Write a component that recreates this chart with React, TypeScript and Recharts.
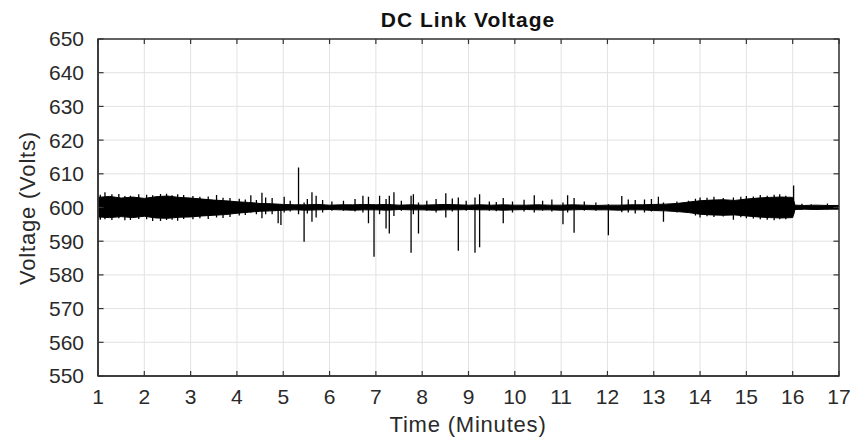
import {
  ComposedChart,
  Area,
  Line,
  XAxis,
  YAxis,
  CartesianGrid,
  ReferenceArea,
  ReferenceLine,
} from "recharts";

// time samples (minutes) for the noise band envelope
const bandTimes = [
  1, 1.25, 1.5, 1.75, 2, 2.25, 2.5, 2.75, 3, 3.25, 3.5, 3.75, 4, 4.25, 4.5, 4.75,
  5, 5.25, 5.5, 5.75, 6, 6.25, 6.5, 6.75, 7, 7.25, 7.5, 7.75, 8, 8.25, 8.5, 8.75,
  9, 9.25, 9.5, 9.75, 10, 10.25, 10.5, 10.75, 11, 11.25, 11.5, 11.75, 12, 12.25, 12.5, 12.75,
  13, 13.25, 13.5, 13.75, 14, 14.25, 14.5, 14.75, 15, 15.25, 15.5, 15.75, 16, 16.05,
  16.25, 16.5, 16.75, 17,
];
const bandHigh = [
  603.0, 603.3, 602.8, 603.1, 602.7, 603.2, 603.4, 603.0, 602.8, 602.5, 602.2, 602.0, 601.7, 601.5, 601.2, 601.1,
  600.9, 600.8, 600.8, 600.9, 600.7, 600.8, 600.8, 600.9, 600.8, 600.9, 600.7, 600.8, 600.7, 600.8, 600.9, 600.8,
  600.7, 600.8, 600.7, 600.8, 600.7, 600.7, 600.8, 600.7, 600.7, 600.8, 600.7, 600.6, 600.7, 600.7, 600.8, 600.8,
  600.9, 601.0, 601.2, 601.6, 602.0, 602.2, 602.3, 602.1, 602.5, 602.8, 603.0, 603.1, 603.0, 600.7,
  600.6, 600.7, 600.6, 600.6,
];
const bandLow = [
  597.2, 597.0, 597.3, 597.0, 597.4, 596.9, 596.8, 597.1, 597.2, 597.5, 597.7, 597.9, 598.3, 598.6, 598.9, 599.0,
  599.2, 599.3, 599.2, 599.3, 599.4, 599.3, 599.2, 599.3, 599.3, 599.2, 599.4, 599.3, 599.3, 599.2, 599.3, 599.3,
  599.4, 599.3, 599.3, 599.2, 599.3, 599.4, 599.3, 599.3, 599.2, 599.3, 599.4, 599.3, 599.3, 599.2, 599.3, 599.3,
  599.1, 599.0, 598.8, 598.5, 598.0, 597.8, 597.7, 597.8, 597.5, 597.2, 597.0, 596.9, 597.0, 599.4,
  599.5, 599.4, 599.5, 599.5,
];

// individual transients: [time, min, max]
const spikes: [number, number, number][] = [
  [1.05, 596.4, 603.8], [1.15, 596.5, 604.5], [1.3, 596.3, 603.9], [1.45, 596.8, 604.0],
  [1.58, 596.2, 603.4], [1.7, 596.3, 603.5], [1.88, 596.6, 603.9], [2.05, 596.5, 603.8],
  [2.18, 596.0, 603.6], [2.35, 596.0, 604.0], [2.48, 596.3, 604.1], [2.6, 596.4, 603.6],
  [2.72, 596.1, 603.9], [2.85, 596.6, 603.7], [3.05, 596.5, 603.4], [3.2, 596.8, 603.2],
  [3.38, 596.6, 603.3], [3.56, 597.0, 603.7], [3.7, 596.9, 602.9], [3.85, 597.2, 602.8],
  [4.05, 597.6, 602.6], [4.18, 597.8, 602.4], [4.3, 598.5, 603.6], [4.42, 598.0, 602.2],
  [4.54, 596.8, 604.4], [4.62, 598.0, 603.0], [4.76, 598.0, 602.8], [4.89, 595.3, 601.0],
  [4.95, 594.8, 601.0], [5.02, 598.5, 603.2], [5.15, 598.8, 602.0], [5.33, 598.0, 611.9],
  [5.45, 589.8, 601.5], [5.52, 598.2, 602.5], [5.62, 595.8, 604.5], [5.71, 597.0, 603.5],
  [5.85, 598.5, 602.2], [6.05, 599.0, 601.8], [6.3, 599.0, 602.0], [6.55, 598.8, 602.5],
  [6.72, 598.5, 603.5], [6.84, 595.3, 603.2], [6.96, 585.4, 601.0], [7.08, 598.0, 603.5],
  [7.22, 593.8, 602.5], [7.29, 592.3, 603.5], [7.39, 597.5, 604.5], [7.55, 599.0, 602.0],
  [7.76, 586.6, 603.5], [7.81, 598.0, 603.9], [7.92, 592.3, 601.5], [8.1, 599.0, 602.0],
  [8.3, 598.5, 602.5], [8.51, 597.0, 604.2], [8.65, 598.8, 602.7], [8.78, 587.2, 603.0],
  [8.95, 599.0, 602.0], [9.14, 586.6, 603.0], [9.24, 588.2, 603.9], [9.45, 599.0, 601.8],
  [9.6, 598.9, 601.6], [9.75, 595.3, 602.8], [9.95, 598.5, 601.8], [10.2, 598.8, 602.3],
  [10.42, 598.5, 603.6], [10.6, 599.0, 602.0], [10.8, 598.8, 602.4], [11.04, 595.0, 601.5],
  [11.14, 598.5, 603.6], [11.28, 592.5, 602.8], [11.5, 599.0, 601.8], [11.75, 599.0, 601.5],
  [12.02, 591.8, 601.0], [12.31, 598.6, 603.4], [12.45, 598.5, 602.4], [12.6, 598.2, 602.2],
  [12.8, 598.5, 602.4], [12.95, 598.8, 602.5], [13.1, 599.0, 603.2], [13.21, 595.8, 601.5],
  [13.5, 598.5, 601.8], [13.75, 598.5, 602.0], [13.9, 597.6, 602.6], [14.0, 597.0, 603.0],
  [14.15, 597.4, 602.9], [14.3, 597.2, 603.2], [14.5, 597.3, 602.8], [14.72, 596.4, 603.0],
  [14.88, 597.1, 603.2], [15.0, 596.8, 603.4], [15.15, 596.7, 603.3], [15.3, 596.5, 603.7],
  [15.45, 596.4, 603.5], [15.6, 596.2, 603.8], [15.72, 596.5, 603.9], [15.85, 596.5, 603.5],
  [16.02, 598.0, 606.5], [16.2, 599.3, 601.1], [16.4, 599.3, 601.0], [16.75, 599.3, 601.2],
];

const nominal = 600;
const xTicks = [1, 2, 3, 4, 5, 6, 7, 8, 9, 10, 11, 12, 13, 14, 15, 16, 17];
const yTicks = [550, 560, 570, 580, 590, 600, 610, 620, 630, 640, 650];

const bandData = bandTimes.map((t, i) => ({ t, band: [bandLow[i], bandHigh[i]] }));
const spikeData = spikes.flatMap(([t, lo, hi]) => [
  { t, v: nominal },
  { t, v: hi },
  { t, v: lo },
  { t, v: nominal },
]);

const AXIS = "#333";
const FONT = "'Liberation Sans', Arial, sans-serif";
const tickStyle = { fill: "#2a2a2a", fontSize: 21, fontFamily: FONT };

export default function App() {
  const xMin = xTicks[0];
  const xMax = xTicks[xTicks.length - 1];
  const yMin = yTicks[0];
  const yMax = yTicks[yTicks.length - 1];
  const tx = 0.12; // inward tick length, minutes
  const ty = 1.5; // inward tick length, volts

  return (
    <div style={{ position: "absolute", left: 0, top: 0, width: 855, height: 437, background: "#fff", fontFamily: FONT }}>
      <div style={{ position: "absolute", top: 8, width: 936, textAlign: "center", fontSize: 21, fontWeight: 700, letterSpacing: 1, color: "#111" }}>
        DC Link Voltage
      </div>
      <div style={{ position: "absolute", top: 412, width: 936, textAlign: "center", fontSize: 22, letterSpacing: 0.8, color: "#2a2a2a" }}>
        Time (Minutes)
      </div>
      <div style={{
        position: "absolute", left: 28, top: 208, transform: "translate(-50%, -50%) rotate(-90deg)",
        whiteSpace: "nowrap", fontSize: 22, letterSpacing: 0.8, color: "#2a2a2a",
      }}>
        Voltage (Volts)
      </div>
      <ComposedChart
        width={855}
        height={437}
        data={bandData}
        margin={{ top: 39, right: 16, bottom: 31, left: 38 }}
      >
        <CartesianGrid stroke="#e2e2e2" strokeWidth={1} />
        <XAxis
          dataKey="t"
          type="number"
          domain={[xMin, xMax]}
          ticks={xTicks}
          interval={0}
          height={30}
          tick={tickStyle}
          tickLine={false}
          tickMargin={7}
          axisLine={{ stroke: AXIS, strokeWidth: 1.5 }}
          allowDataOverflow
        />
        <YAxis
          type="number"
          domain={[yMin, yMax]}
          ticks={yTicks}
          interval={0}
          width={60}
          tick={tickStyle}
          tickLine={false}
          tickMargin={8}
          axisLine={{ stroke: AXIS, strokeWidth: 1.5 }}
          allowDataOverflow
        />
        <Area
          dataKey="band"
          type="linear"
          stroke="#000"
          strokeWidth={1}
          fill="#000"
          fillOpacity={1}
          isAnimationActive={false}
          dot={false}
          activeDot={false}
        />
        <Line
          data={spikeData}
          dataKey="v"
          type="linear"
          stroke="#000"
          strokeWidth={1.3}
          dot={false}
          activeDot={false}
          isAnimationActive={false}
        />
        <ReferenceArea x1={xMin} x2={xMax} y1={yMin} y2={yMax} fill="none" stroke={AXIS} strokeWidth={1.5} ifOverflow="extendDomain" />
        {xTicks.map((x) => (
          <ReferenceLine key={"xb" + x} segment={[{ x, y: yMin }, { x, y: yMin + ty }]} stroke={AXIS} strokeWidth={1.2} />
        ))}
        {xTicks.map((x) => (
          <ReferenceLine key={"xt" + x} segment={[{ x, y: yMax }, { x, y: yMax - ty }]} stroke={AXIS} strokeWidth={1.2} />
        ))}
        {yTicks.map((y) => (
          <ReferenceLine key={"yl" + y} segment={[{ x: xMin, y }, { x: xMin + tx, y }]} stroke={AXIS} strokeWidth={1.2} />
        ))}
        {yTicks.map((y) => (
          <ReferenceLine key={"yr" + y} segment={[{ x: xMax, y }, { x: xMax - tx, y }]} stroke={AXIS} strokeWidth={1.2} />
        ))}
      </ComposedChart>
    </div>
  );
}
